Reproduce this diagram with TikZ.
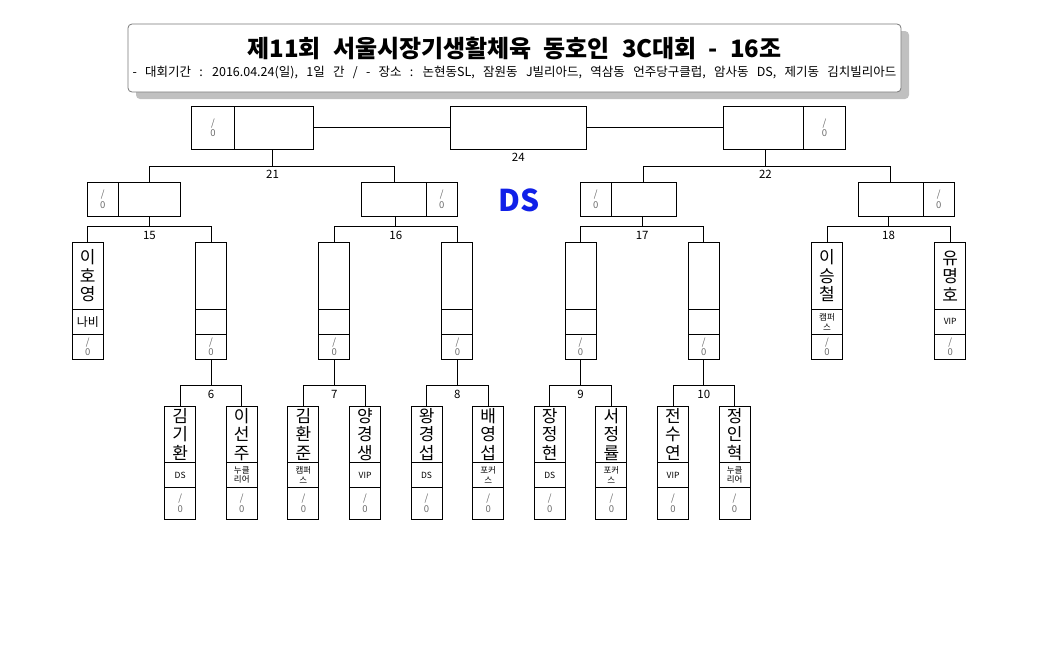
\documentclass[tikz,border=0pt]{standalone}
\usepackage{fontspec}
\setmainfont{Noto Sans CJK KR}
\definecolor{dsblue}{RGB}{16,32,232}
\definecolor{scoregray}{RGB}{105,105,105}
\definecolor{shadowgray}{RGB}{192,192,192}
\definecolor{framegray}{RGB}{120,120,120}

\begin{document}
\begin{tikzpicture}[x=1pt, y=-1pt, line width=1pt,
    part/.style={draw, rectangle, inner sep=0pt, outer sep=0pt, align=center},
    namepart/.style={part, minimum width=31pt, font=\fontsize{17}{18.5}\selectfont},
    clubpart/.style={part, minimum width=31pt, font=\fontsize{8.5}{9.5}\selectfont},
    scorepart/.style={part, text=scoregray, font=\fontsize{9.5}{10.5}\selectfont},
    matchno/.style={inner sep=0pt, font=\fontsize{11.5}{13}\selectfont}]
  \useasboundingbox (0,0) rectangle (1041,653);
  % title
  \fill[shadowgray, rounded corners=4pt] (136,31) rectangle (909,99);
  \node[draw=framegray, fill=white, rounded corners=4pt, minimum width=773pt, minimum height=68pt, line width=0.8pt] (titlebox) at (514.5,58) {};
  \node[font=\fontsize{24}{26}\selectfont\bfseries] (title) at (514.5,48) {\spaceskip=12pt 제11회 서울시장기생활체육 동호인 3C대회 - 16조};
  \node[font=\fontsize{12.5}{14}\selectfont] (info) at (514.5,73) {\spaceskip=8.3pt - 대회기간 : 2016.04.24(일), 1일 간 / - 장소 : 논현동SL, 잠원동 J빌리아드, 역삼동 언주당구클럽, 암사동 DS, 제기동 김치빌리아드};
  \node[font=\fontsize{30}{32}\selectfont\bfseries, text=dsblue] (ds) at (519,200) {DS};

  % final and semifinal slots
  \node[part, minimum width=135.3pt, minimum height=43.3pt] (f24) at (518.35,127.65) {};
  \node[scorepart, minimum width=42.6pt, minimum height=43.3pt] (s21-s) at (213,127.65) {/\\0};
  \node[part, minimum width=79pt, minimum height=43.3pt] (s21-n) at (273.8,127.65) {};
  \node[part, minimum width=80.4pt, minimum height=43.3pt] (s22-n) at (763.5,127.65) {};
  \node[scorepart, minimum width=41.6pt, minimum height=43.3pt] (s22-s) at (824.5,127.65) {/\\0};
  \node[matchno] (l24) at (518.35,157) {24};
  \draw (s21-n) -- (f24);
  \draw (f24) -- (s22-n);

  % quarterfinal slots
  \node[scorepart, minimum width=31pt, minimum height=34pt] (q15-s) at (102.8,199.3) {/\\0};
  \node[part, minimum width=62pt, minimum height=34pt] (q15-n) at (149.3,199.3) {};
  \node[part, minimum width=64.6pt, minimum height=34pt] (q16-n) at (394,199.3) {};
  \node[scorepart, minimum width=30.7pt, minimum height=34pt] (q16-s) at (441.7,199.3) {/\\0};
  \node[scorepart, minimum width=31pt, minimum height=34pt] (q17-s) at (595.8,199.3) {/\\0};
  \node[part, minimum width=65pt, minimum height=34pt] (q17-n) at (643.8,199.3) {};
  \node[part, minimum width=65pt, minimum height=34pt] (q18-n) at (890.8,199.3) {};
  \node[scorepart, minimum width=31pt, minimum height=34pt] (q18-s) at (938.8,199.3) {/\\0};

  % round of 16
  \foreach \k/\x/\nm/\club in {1/87.8/{이\\호\\영}/{\fontsize{12}{13}\selectfont 나비}, 2/211/{}/{}, 3/334.2/{}/{}, 4/457.4/{}/{}, 5/580.6/{}/{}, 6/703.8/{}/{}, 7/827/{이\\승\\철}/{캠퍼\\스}, 8/950.2/{유\\명\\호}/{VIP}}{
    \node[namepart, minimum height=66.6pt] (r\k-n) at (\x,276) {\nm};
    \node[clubpart, minimum height=25pt] (r\k-c) at (\x,321.8) {\club};
    \node[scorepart, minimum width=31pt, minimum height=25pt] (r\k-s) at (\x,346.8) {/\\0};
  }

  % first round
  \foreach \k/\x/\nm/\club in {1/180.2/{김\\기\\환}/DS, 2/241.8/{이\\선\\주}/{누클\\리어}, 3/303.4/{김\\환\\준}/{캠퍼\\스}, 4/365/{양\\경\\생}/VIP, 5/426.6/{왕\\경\\섭}/DS, 6/488.2/{배\\영\\섭}/{포커\\스}, 7/549.8/{장\\정\\현}/DS, 8/611.4/{서\\정\\률}/{포커\\스}, 9/673/{전\\수\\연}/VIP, 10/734.6/{정\\인\\혁}/{누클\\리어}}{
    \node[namepart, minimum height=56.7pt] (b\k-n) at (\x,434.35) {\nm};
    \node[clubpart, minimum height=24.6pt] (b\k-c) at (\x,475) {\club};
    \node[scorepart, minimum width=31pt, minimum height=31.7pt] (b\k-s) at (\x,503.15) {/\\0};
  }

  % brackets
  \foreach \parent/\lnode/\rnode/\jx/\jy/\no in {s21-n/q15-n/q16-n/272.6/166.3/21, s22-n/q17-n/q18-n/765.4/166.3/22, q15-n/r1-n/r2-n/149.4/226.7/15, q16-n/r3-n/r4-n/395.8/226.7/16, q17-n/r5-n/r6-n/642.2/226.7/17, q18-n/r7-n/r8-n/888.6/226.7/18, r2-s/b1-n/b2-n/211/385.7/6, r3-s/b3-n/b4-n/334.2/385.7/7, r4-s/b5-n/b6-n/457.4/385.7/8, r5-s/b7-n/b8-n/580.6/385.7/9, r6-s/b9-n/b10-n/703.8/385.7/10}{
    \coordinate (j\no) at (\jx,\jy);
    \draw (j\no |- \parent.south) -- (j\no);
    \draw (\lnode.north) |- (j\no) -| (\rnode.north);
    \node[matchno] (l\no) at ([yshift=-8.5pt]j\no) {\no};
  }
\end{tikzpicture}
\end{document}
